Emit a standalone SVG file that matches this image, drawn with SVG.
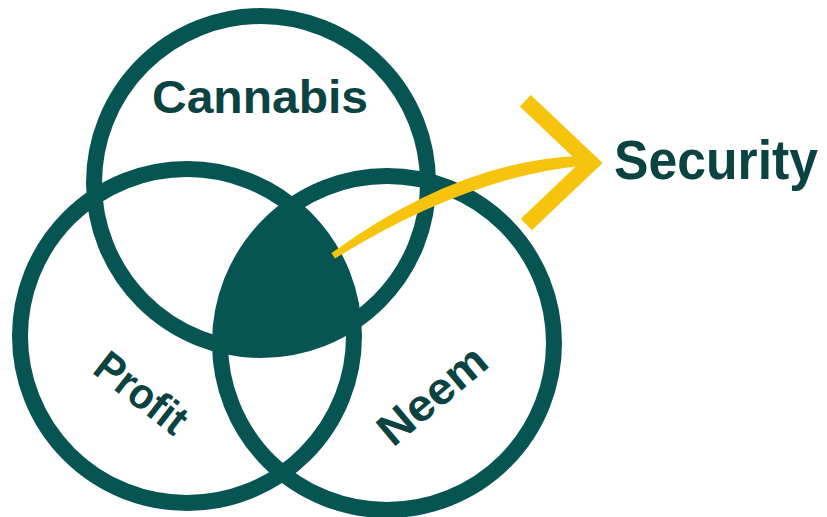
<svg xmlns="http://www.w3.org/2000/svg" width="827" height="517" viewBox="0 0 827 517">
  <style>
    .ring { fill: none; stroke: #075553; stroke-width: 16; }
    .lbl { font-family: "Liberation Sans", Arial, sans-serif; font-weight: bold; fill: #0a4341; }
    .arrow { fill: #f7c40d; }
    .chev { fill: none; stroke: #f7c40d; stroke-width: 16; stroke-linejoin: miter; stroke-miterlimit: 10; stroke-linecap: butt; }
  </style>
  <defs>
    <clipPath id="clipTop"><circle cx="261" cy="183" r="167"/></clipPath>
    <clipPath id="clipLeft"><circle cx="187" cy="336" r="167"/></clipPath>
  </defs>
  <rect width="827" height="517" fill="#ffffff"/>

  <g id="node-core">
    <g clip-path="url(#clipTop)">
      <circle cx="387" cy="343" r="167" fill="#075553" clip-path="url(#clipLeft)"/>
    </g>
  </g>

  <g id="node-cannabis">
    <circle class="ring" cx="261" cy="183" r="167"/>
    <text class="lbl" x="152" y="113" font-size="47" textLength="216" lengthAdjust="spacingAndGlyphs">Cannabis</text>
  </g>

  <g id="node-profit">
    <circle class="ring" cx="187" cy="336" r="167"/>
    <text class="lbl" font-size="43" textLength="105" lengthAdjust="spacingAndGlyphs" transform="translate(91,372) rotate(38)">Profit</text>
  </g>

  <g id="node-neem">
    <circle class="ring" cx="387" cy="343" r="167"/>
    <text class="lbl" font-size="45" textLength="128" lengthAdjust="spacingAndGlyphs" transform="translate(393,448) rotate(-40)">Neem</text>
  </g>

  <g id="node-security">
    <text class="lbl" x="614" y="179" font-size="56" textLength="204" lengthAdjust="spacingAndGlyphs" fill="#075553">Security</text>
  </g>

  <g id="connectors">
    <path class="arrow" d="M 331.5,253 Q 460,160 580,156 L 580,166 Q 465,178 335,258.5 Z"/>
    <polyline class="chev" points="525.3,100.8 591,163 526.3,224.5"/>
  </g>
</svg>
